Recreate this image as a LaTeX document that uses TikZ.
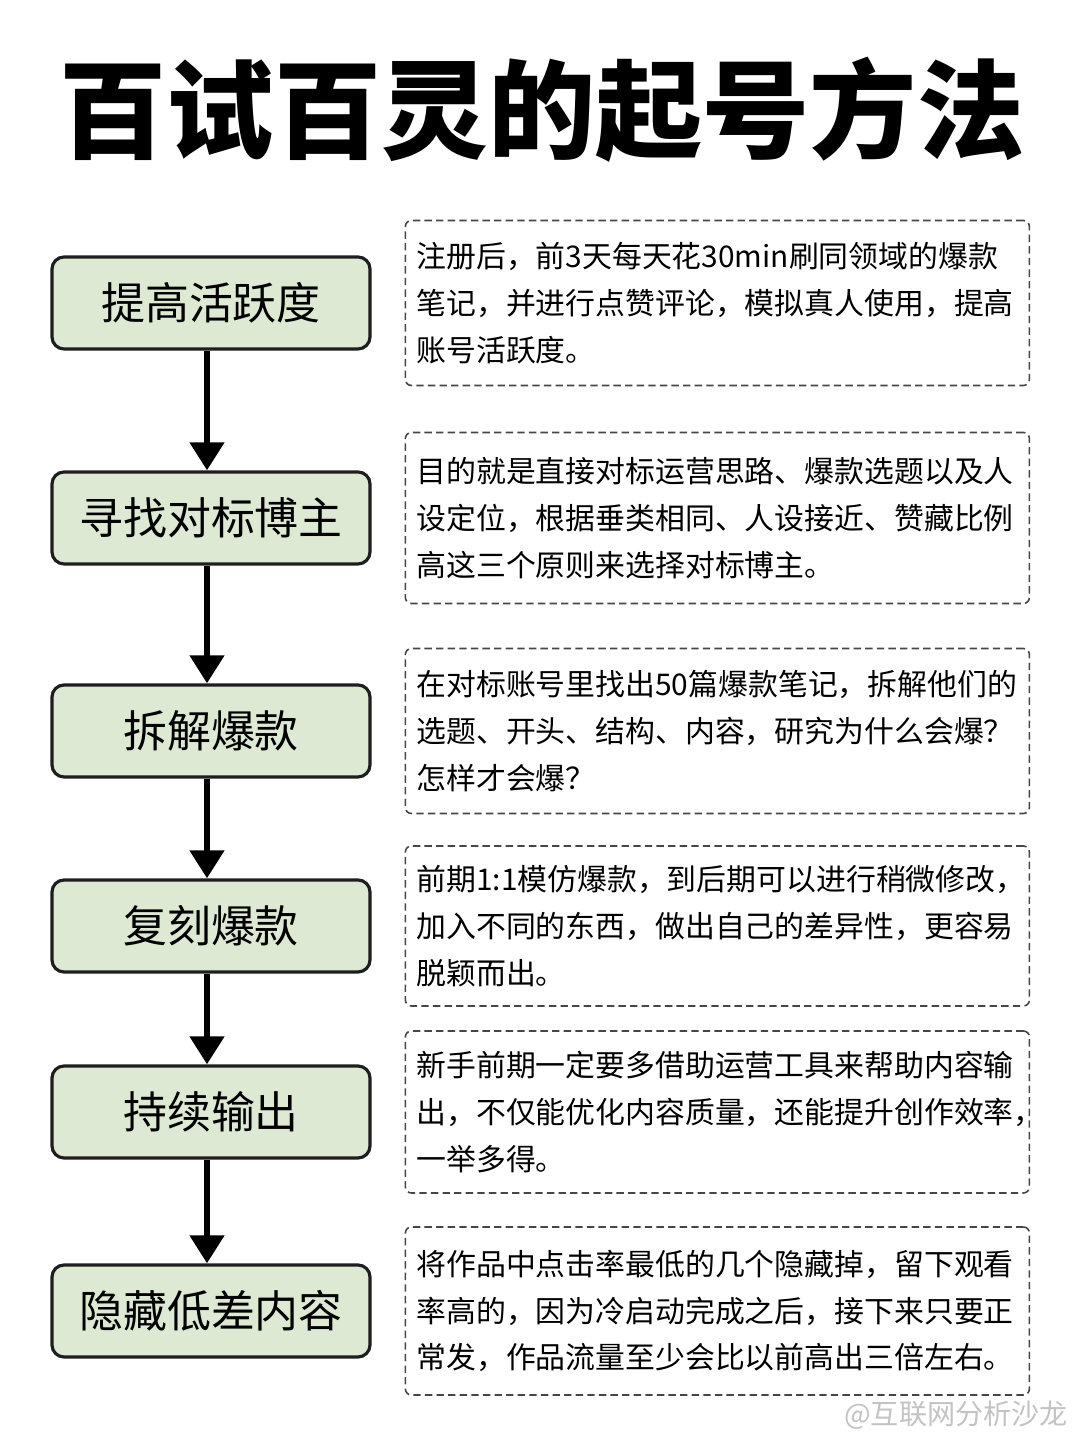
\documentclass[tikz,border=0pt]{standalone}
\usepackage{fontspec}
\setmainfont{Noto Sans CJK SC}
\usepackage{tikz}
\usetikzlibrary{arrows.meta,positioning}
\usepackage{xcolor}
\definecolor{stepgreen}{RGB}{222,233,212}
\definecolor{stepborder}{RGB}{30,30,30}
\definecolor{notegray}{RGB}{70,70,70}
\definecolor{markgray}{RGB}{195,195,195}
\tikzstyle{stepbox} = [rectangle, rounded corners=0.24cm, minimum width=6.36cm, minimum height=1.84cm, text centered, draw=stepborder, fill=stepgreen, line width=1.8pt, font=\fontsize{25}{30}\selectfont]
\tikzstyle{note} = [rectangle, rounded corners=0.12cm, text width=12.04cm, inner xsep=0.22cm, minimum height=3.3cm, align=left, draw=notegray, dash pattern=on 4.2pt off 2.4pt, line width=0.9pt, font=\fontsize{17}{26.7}\selectfont]
\tikzstyle{arrow} = [line width=3.8pt, -{Triangle[width=19pt,length=16pt]}, color=black]

\begin{document}
\begin{tikzpicture}
\useasboundingbox (0,0) rectangle (21.6,28.82);
\fill[white] (0,0) rectangle (21.6,28.82);

% Title
\node (title) at (10.84,26.62) {\fontsize{61}{70}\selectfont\bfseries 百试百灵的起号方法};

% Step nodes
\node (active) [stepbox] at (4.22,22.76) {提高活跃度};
\node (bench) [stepbox] at (4.22,18.46) {寻找对标博主};
\node (split) [stepbox] at (4.22,14.20) {拆解爆款};
\node (copy) [stepbox] at (4.22,10.30) {复刻爆款};
\node (output) [stepbox] at (4.22,6.58) {持续输出};
\node (hide) [stepbox] at (4.22,2.60) {隐藏低差内容};

% Notes on the right
\node (activenote) [note, right=0.66cm of active] {注册后，前3天每天花30min刷同领域的爆款\\笔记，并进行点赞评论，模拟真人使用，提高\\账号活跃度。};
\node (benchnote) [note, right=0.66cm of bench, minimum height=3.42cm] {目的就是直接对标运营思路、爆款选题以及人\\设定位，根据垂类相同、人设接近、赞藏比例\\高这三个原则来选择对标博主。};
\node (splitnote) [note, right=0.66cm of split] {在对标账号里找出50篇爆款笔记，拆解他们的\\选题、开头、结构、内容，研究为什么会爆？\\怎样才会爆？};
\node (copynote) [note, right=0.66cm of copy, minimum height=3.2cm] {前期1:1模仿爆款，到后期可以进行稍微修改，\\加入不同的东西，做出自己的差异性，更容易\\脱颖而出。};
\node (outputnote) [note, right=0.66cm of output, minimum height=3.24cm] {新手前期一定要多借助运营工具来帮助内容输\\出，不仅能优化内容质量，还能提升创作效率，\\一举多得。};
\node (hidenote) [note, right=0.66cm of hide, minimum height=3.36cm] {将作品中点击率最低的几个隐藏掉，留下观看\\率高的，因为冷启动完成之后，接下来只要正\\常发，作品流量至少会比以前高出三倍左右。};

% Arrows
\draw[arrow] ([xshift=-0.08cm]active.south) -- ([xshift=-0.08cm]bench.north);
\draw[arrow] ([xshift=-0.08cm]bench.south) -- ([xshift=-0.08cm]split.north);
\draw[arrow] ([xshift=-0.08cm]split.south) -- ([xshift=-0.08cm]copy.north);
\draw[arrow] ([xshift=-0.08cm]copy.south) -- ([xshift=-0.08cm]output.north);
\draw[arrow] ([xshift=-0.08cm]output.south) -- ([xshift=-0.08cm]hide.north);

% Watermark
\node (mark) [text=markgray, font=\fontsize{16}{18}\selectfont] at (19.12,0.52) {@互联网分析沙龙};
\end{tikzpicture}
\end{document}
